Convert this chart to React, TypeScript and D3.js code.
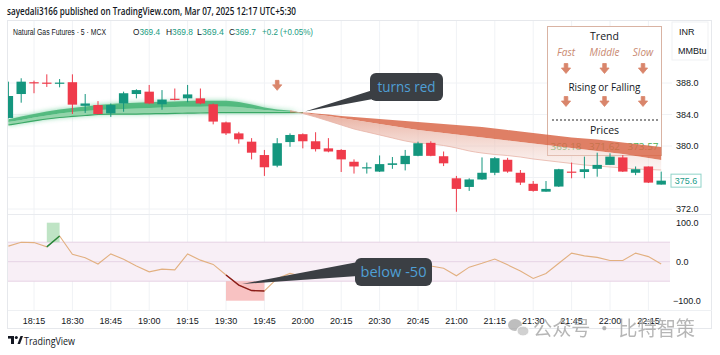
import React from 'react';
import * as d3 from 'd3';

const W = 720;
const H = 355;

// 5-minute candles, Mar 07 2025, starting 18:05
const startTime = new Date(2025, 2, 7, 18, 5);

const opens = [383.56, 386.6, 388.1, 388.05, 387.95, 388.1, 385.1, 385.2, 384.15, 385.4, 386.6, 386.9, 385.3, 386.0, 386.05, 386.05, 385.3, 383.0, 381.6, 380.55, 378.85, 377.5, 380.5, 381.5, 380.6, 379.7, 379.5, 378.0, 377.25, 376.75, 377.6, 377.7, 378.75, 380.4, 378.7, 375.9, 374.8, 375.75, 376.6, 378.25, 376.6, 375.2, 374.2, 374.85, 376.75, 376.7, 377.1, 377.6, 378.55, 376.6, 377.4, 375.1];
const highs = [388.17, 388.6, 388.3, 389.1, 388.5, 389.1, 386.6, 385.7, 385.4, 386.9, 387.2, 387.75, 387.1, 387.3, 387.75, 387.3, 385.4, 383.1, 381.8, 381.0, 379.5, 381.0, 381.6, 381.6, 381.75, 381.0, 379.6, 378.3, 377.9, 378.8, 378.6, 379.5, 380.55, 380.6, 379.3, 376.2, 375.9, 378.55, 378.6, 378.5, 376.95, 375.55, 375.55, 377.1, 377.9, 378.65, 379.15, 379.07, 378.85, 377.4, 377.4, 376.75];
const lows = [383.5, 385.5, 386.7, 387.5, 387.45, 384.06, 384.2, 384.0, 383.7, 384.35, 386.05, 385.3, 384.6, 385.8, 385.55, 385.3, 382.75, 381.4, 380.3, 378.3, 376.2, 377.3, 379.9, 379.7, 379.3, 379.2, 376.7, 376.5, 376.5, 376.7, 377.1, 376.9, 378.7, 378.7, 377.45, 371.65, 374.3, 375.7, 376.3, 376.6, 375.05, 374.2, 374.2, 374.8, 375.9, 375.9, 376.1, 377.6, 376.7, 376.3, 375.3, 375.1];
const closes = [386.35, 388.17, 388.0, 387.95, 388.05, 385.25, 385.4, 384.06, 385.2, 386.7, 387.1, 385.4, 385.9, 385.9, 386.55, 385.4, 383.1, 381.6, 380.85, 379.15, 377.3, 380.35, 381.4, 380.6, 379.6, 379.3, 378.3, 377.4, 377.3, 377.7, 377.8, 378.75, 380.35, 378.75, 377.8, 374.55, 375.75, 376.6, 378.45, 376.75, 375.35, 374.3, 374.55, 377.05, 376.65, 377.05, 377.6, 378.65, 376.75, 377.05, 375.35, 375.6];

// trend ribbon (fast / middle / slow)
const fastLine = [383.39, 383.75, 384.06, 384.38, 384.64, 384.83, 385.02, 385.21, 385.33, 385.42, 385.49, 385.55, 385.61, 385.66, 385.71, 385.74, 385.75, 385.74, 385.59, 385.27, 384.89, 384.64, 384.51, 384.13, 383.68, 383.18, 382.67, 382.16, 381.78, 381.4, 381.02, 380.64, 380.38, 380.25, 380.06, 379.75, 379.37, 379.11, 378.92, 378.79, 378.6, 378.35, 378.16, 377.97, 377.78, 377.59, 377.46, 377.33, 377.21, 377.08, 377.02, 376.95];
const midLine = [383.05, 383.3, 383.62, 383.87, 384.13, 384.32, 384.44, 384.57, 384.64, 384.7, 384.76, 384.83, 384.89, 384.95, 384.98, 385.0, 385.02, 385.02, 384.95, 384.76, 384.57, 384.44, 384.34, 384.19, 384.0, 383.81, 383.56, 383.3, 383.05, 382.79, 382.54, 382.29, 382.03, 381.84, 381.65, 381.46, 381.27, 381.08, 380.89, 380.7, 380.51, 380.32, 380.13, 379.94, 379.75, 379.56, 379.37, 379.17, 378.98, 378.73, 378.48, 378.22];
const slowLine = [382.67, 382.92, 383.18, 383.43, 383.62, 383.75, 383.87, 384.0, 384.06, 384.06, 384.06, 384.09, 384.11, 384.14, 384.17, 384.19, 384.22, 384.24, 384.25, 384.25, 384.25, 384.25, 384.25, 384.25, 384.13, 384.0, 383.81, 383.68, 383.56, 383.43, 383.3, 383.18, 383.05, 382.92, 382.79, 382.67, 382.54, 382.41, 382.22, 382.03, 381.84, 381.65, 381.46, 381.27, 381.08, 380.95, 380.83, 380.64, 380.44, 380.25, 380.06, 379.87];

// oscillator
const oscValues = [40, 50, 49, 38, 66, 19, 10, -6, 20, 6, -11, -26, -19, -21, 20, 4, -7, -34, -60, -74, -75, -43, -30, -38, -36, -30, -28, -22, -18, 6, -44, -44, -4, -11, -17, -36, -14, -4, 7, -8, -24, -43, -30, -4, 22, 15, 11, 3, 3, 22, 13, -6];
const overboughtSpans = [[3, 4]];
const oversoldSpans = [[17, 20]];

const priceTicks = [388, 384, 380, 372];
const priceGrid = [388, 384, 380, 376, 372];
const oscTicks = [100, 0, -100];
const oscLevels = [50, 0, -50];
const lastPrice = 375.6;
const signalBars = [21];
const signalPrices = [387.7];

const legendHeads = ['Fast', 'Middle', 'Slow'];
const legendPrices = ['369.18', '371.62', '373.57'];

const FONT = '"Open Sans", "Noto Sans", sans-serif';
const AXIS_FONT = '"Liberation Sans", Arial, sans-serif';
const UP = '#14967e';
const DOWN = '#ef3b4b';
const ARROW = '#d9856b';
const TEXT = '#131722';
const VAL = '#1a9c82';

function DownArrow({ cx, cy }: { cx: number; cy: number }) {
  return (
    <path
      transform={`translate(${cx},${cy})`}
      d="M-1.8,-5 L1.8,-5 L1.8,-0.5 L4.6,-0.5 L0,5 L-4.6,-0.5 L-1.8,-0.5 Z"
      fill={ARROW}
      stroke={ARROW}
      strokeWidth={0.8}
      strokeLinejoin="round"
    />
  );
}

export default function App() {
  const times = opens.map((_, i) => d3.timeMinute.offset(startTime, 5 * i));
  const x = d3.scaleTime().domain([times[0], times[times.length - 1]]).range([8.4, 661.2]);
  const y = d3.scaleLinear().domain([372, 388]).range([209, 83]);
  const yo = d3.scaleLinear().domain([-100, 100]).range([300.7, 222.7]);
  const xi = (i: number) => x(times[i]);
  const ticks = x.ticks(d3.timeMinute.every(15) as any);
  const fmt = d3.timeFormat('%H:%M');
  const f1 = d3.format('.1f');

  const idx = d3.range(opens.length);
  const cross = idx.find((i) => fastLine[i] < slowLine[i]) ?? idx.length;
  const greenIdx = idx.slice(0, cross + 1);
  const redIdx = idx.slice(cross - 1);

  const band = (a: number[], b: number[]) =>
    d3.area<number>().x(xi).y0((i) => y(b[i])).y1((i) => y(a[i])).curve(d3.curveMonotoneX);
  const line = (a: number[]) => d3.line<number>().x(xi).y((i) => y(a[i])).curve(d3.curveMonotoneX);

  const oscLine = d3.line<number>().x(xi).y((i) => yo(oscValues[i]));

  const bodyW = 9.4;
  const colX = (k: number) => 566 + k * 38.5;

  return (
    <svg
      width={W}
      height={H}
      viewBox={`0 0 ${W} ${H}`}
      style={{ position: 'absolute', left: 0, top: 0, background: '#fff', fontFamily: FONT }}
    >
      <defs>
        <clipPath id="mainClip">
          <rect x={8} y={20} width={664} height={194} />
        </clipPath>
        <clipPath id="oscClip">
          <rect x={8} y={215} width={664} height={95} />
        </clipPath>
        <filter id="glow" x="-10%" y="-50%" width="120%" height="200%">
          <feGaussianBlur stdDeviation="2.4" />
        </filter>
        <linearGradient id="pinkFade" x1="0" y1="0" x2="0" y2="1">
          <stop offset="0%" stopColor="#e39a86" stopOpacity={0.85} />
          <stop offset="100%" stopColor="#f3dcd6" stopOpacity={0.3} />
        </linearGradient>
      </defs>

      <rect x={0} y={0} width={W} height={H} fill="#fff" />

      {/* header */}
      <text x={7} y={14.5} fontSize={10} fontWeight={600} fill={TEXT} textLength={289} lengthAdjust="spacingAndGlyphs">
        sayedali3166 published on TradingView.com, Mar 07, 2025 12:17 UTC+5:30
      </text>

      {/* frame */}
      <rect x={7.5} y={20.5} width={704} height={308} fill="none" stroke="#e6e8ec" />

      {/* grid */}
      {ticks.map((t, k) => (
        <line key={'vg' + k} x1={x(t)} x2={x(t)} y1={21} y2={310} stroke="#f0f2f5" />
      ))}
      {priceGrid.map((p) => (
        <line key={'hg' + p} x1={8} x2={672} y1={y(p)} y2={y(p)} stroke="#f0f2f5" />
      ))}
      <line x1={8} x2={712} y1={214.5} y2={214.5} stroke="#e9ebef" />
      <line x1={8} x2={712} y1={310.5} y2={310.5} stroke="#eef0f3" />

      {/* legend table */}
      <rect x={547.5} y={26.5} width={114} height={129} fill="#fff" stroke="#d9b3a3" strokeWidth={1} />
      <text x={604.5} y={39.5} fontSize={10.5} textAnchor="middle" fill={TEXT}>Trend</text>
      {legendHeads.map((h, k) => (
        <text key={h} x={colX(k)} y={56} fontSize={10} textAnchor="middle" fill="#c98a72" fontStyle="italic">
          {h}
        </text>
      ))}
      {legendHeads.map((h, k) => (
        <DownArrow key={'a1' + h} cx={colX(k)} cy={68.5} />
      ))}
      <text x={604.5} y={90.5} fontSize={10.5} textAnchor="middle" fill={TEXT} textLength={72} lengthAdjust="spacingAndGlyphs">
        Rising or Falling
      </text>
      {legendHeads.map((h, k) => (
        <DownArrow key={'a2' + h} cx={colX(k)} cy={101.5} />
      ))}
      <line x1={552} x2={658} y1={120} y2={120} stroke="#222" strokeDasharray="2 2" />
      <text x={604.5} y={134} fontSize={10.5} textAnchor="middle" fill={TEXT}>Prices</text>
      {legendPrices.map((p, k) => (
        <text key={'lp' + k} x={colX(k)} y={150} fontSize={9.5} textAnchor="middle" fill="#4caf50" textLength={31} lengthAdjust="spacingAndGlyphs">
          {p}
        </text>
      ))}

      {/* ribbon */}
      <g clipPath="url(#mainClip)">
        <path d={band(fastLine, slowLine)(greenIdx) || ''} fill="#3fc07a" opacity={0.65} filter="url(#glow)" />
        <path d={band(fastLine, midLine)(greenIdx) || ''} fill="#4bb679" opacity={0.9} />
        <path d={band(midLine, slowLine)(greenIdx) || ''} fill="#92d3a8" opacity={0.9} />
        <path d={line(slowLine)(greenIdx) || ''} fill="none" stroke="#3aa866" strokeWidth={1.2} />
        <path d={band(slowLine, midLine)(redIdx) || ''} fill="#d9694a" opacity={0.85} />
        <path d={band(midLine, fastLine)(redIdx) || ''} fill="url(#pinkFade)" />
        <path d={line(fastLine)(redIdx) || ''} fill="none" stroke="#e7b3a6" strokeWidth={1} opacity={0.8} />
      </g>

      {/* candles */}
      <g clipPath="url(#mainClip)">
        {idx.map((i) => {
          const up = closes[i] >= opens[i];
          const c = up ? UP : DOWN;
          const cx = xi(i);
          const top = y(Math.max(opens[i], closes[i]));
          const bot = y(Math.min(opens[i], closes[i]));
          return (
            <g key={'c' + i}>
              <line x1={cx} x2={cx} y1={y(highs[i])} y2={y(lows[i])} stroke={c} strokeWidth={1} />
              <rect x={cx - bodyW / 2} y={top} width={bodyW} height={Math.max(1.2, bot - top)} fill={c} />
            </g>
          );
        })}
        {signalBars.map((b, k) => (
          <DownArrow key={'sig' + k} cx={xi(b)} cy={y(signalPrices[k])} />
        ))}
      </g>

      {/* "turns red" callout */}
      <polygon points="305,111.5 373,90 373,99" fill="#3b3f44" />
      <rect x={370} y={73} width={73} height={28} rx={6} fill="#3b3f44" />
      <text x={406.5} y={92} fontSize={14} textAnchor="middle" fill="#4f9fd6" textLength={58} lengthAdjust="spacingAndGlyphs">
        turns red
      </text>

      {/* oscillator pane */}
      <rect x={8} y={yo(50)} width={662} height={yo(-50) - yo(50)} fill="#f8eff6" />
      {oscLevels.map((v) => (
        <line key={'ol' + v} x1={8} x2={670} y1={yo(v)} y2={yo(v)} stroke="#e6d3e4" strokeWidth={1} />
      ))}
      <g clipPath="url(#oscClip)">
        {overboughtSpans.map(([a, b], k) => (
          <rect key={'ob' + k} x={xi(a)} y={yo(100)} width={xi(b) - xi(a)} height={yo(50) - yo(100)} fill="#a9dbb2" opacity={0.75} />
        ))}
        {oversoldSpans.map(([a, b], k) => (
          <rect key={'os' + k} x={xi(a)} y={yo(-50)} width={xi(b) - xi(a)} height={yo(-100) - yo(-50)} fill="#f6b3b3" opacity={0.8} />
        ))}
        <path d={oscLine(idx) || ''} fill="none" stroke="#e2b080" strokeWidth={1.1} />
        {overboughtSpans.map(([a, b], k) => (
          <path key={'obl' + k} d={oscLine(d3.range(a, b + 1)) || ''} fill="none" stroke="#23873c" strokeWidth={1.4} />
        ))}
        {oversoldSpans.map(([a, b], k) => (
          <path key={'osl' + k} d={oscLine(d3.range(a, b + 1)) || ''} fill="none" stroke="#8a1a1a" strokeWidth={1.4} />
        ))}
      </g>

      {/* "below -50" callout */}
      <polygon points="242,284 358,262 358,276" fill="#3b3f44" />
      <rect x={355} y={258} width={77} height={28} rx={6} fill="#3b3f44" />
      <text x={393.5} y={277} fontSize={14} textAnchor="middle" fill="#4f9fd6" textLength={66} lengthAdjust="spacingAndGlyphs">
        below -50
      </text>

      {/* price axis */}
      <g fontFamily={AXIS_FONT}>
        <rect x={672} y={22} width={36} height={38} fill="#fff" stroke="#f0f1f3" />
        <text x={679} y={35} fontSize={9} fill={TEXT}>INR</text>
        <text x={678} y={53.5} fontSize={9} fill={TEXT}>MMBtu</text>
        {priceTicks.map((p) => (
          <text key={'pt' + p} x={676} y={y(p) + 3.2} fontSize={9} fill={TEXT}>
            {f1(p)}
          </text>
        ))}
        <rect x={671} y={y(lastPrice) - 6.5} width={30} height={13} fill="#fff" stroke="#8fd3c8" strokeWidth={1} />
        <text x={686} y={y(lastPrice) + 3.2} fontSize={9} textAnchor="middle" fill="#1b9c8a">
          {f1(lastPrice)}
        </text>
        {oscTicks.map((v) => (
          <text key={'ot' + v} x={v < 0 ? 673 : 676} y={yo(v) + 3.2} fontSize={9} fill={TEXT}>
            {f1(v)}
          </text>
        ))}

        {/* time axis */}
        {ticks.map((t, k) => (
          <text key={'tl' + k} x={x(t)} y={323.5} fontSize={9} textAnchor="middle" fill={TEXT}>
            {fmt(t)}
          </text>
        ))}
      </g>

      {/* symbol line */}
      <g fontSize={8.5} fill={TEXT} fontFamily={AXIS_FONT}>
        <text x={13} y={35} textLength={93} lengthAdjust="spacingAndGlyphs">Natural Gas Futures · 5 · MCX</text>
        <text x={133} y={35} textLength={27} lengthAdjust="spacingAndGlyphs">O<tspan fill={VAL}>369.4</tspan></text>
        <text x={166} y={35} textLength={27} lengthAdjust="spacingAndGlyphs">H<tspan fill={VAL}>369.8</tspan></text>
        <text x={197} y={35} textLength={27} lengthAdjust="spacingAndGlyphs">L<tspan fill={VAL}>369.4</tspan></text>
        <text x={229} y={35} textLength={27} lengthAdjust="spacingAndGlyphs">C<tspan fill={VAL}>369.7</tspan></text>
        <text x={262} y={35} fill={VAL} textLength={51} lengthAdjust="spacingAndGlyphs">+0.2 (+0.05%)</text>
      </g>

      {/* TradingView logo */}
      <g fill={TEXT}>
        <rect x={8} y={336} width={6} height={2.6} />
        <rect x={11} y={336} width={3} height={8} />
        <circle cx={16.3} cy={337.5} r={1.5} />
        <polygon points="17.5,344 20.5,336 23,336 20,344" />
      </g>
      <text x={24} y={344.5} fontSize={10} fill={TEXT} textLength={51} lengthAdjust="spacingAndGlyphs">TradingView</text>

      {/* watermark */}
      <g opacity={0.75}>
        <ellipse cx={515} cy={325} rx={7} ry={6} fill="#a9a9a9" />
        <ellipse cx={523} cy={331} rx={6} ry={5} fill="#c2c2c2" stroke="#fff" strokeWidth={1} />
        <text x={533} y={336} fontSize={20} fill="#9e9e9e" fontFamily='"Noto Sans CJK SC", sans-serif' textLength={162} lengthAdjust="spacingAndGlyphs">
          公众号 · 比特智策
        </text>
      </g>
    </svg>
  );
}
